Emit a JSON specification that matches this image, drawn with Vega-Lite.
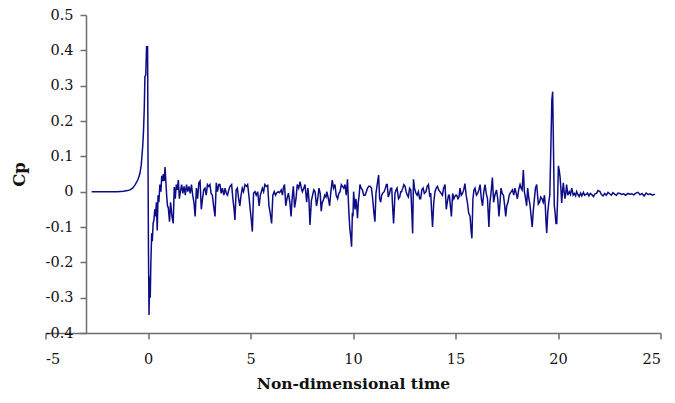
{
  "$schema": "https://vega.github.io/schema/vega-lite/v6.json",
  "autosize": "none",
  "width": 615,
  "height": 318,
  "padding": {"left": 45.5, "top": 15, "right": 14, "bottom": 70},
  "background": "white",
  "config": {
    "view": {"stroke": null},
    "axis": {
      "grid": false,
      "domainColor": "#6e6e6e",
      "domainWidth": 1.5,
      "tickColor": "#6e6e6e",
      "tickWidth": 1.5,
      "tickSize": 6,
      "labelFont": "DejaVu Serif",
      "labelFontSize": 14.5,
      "labelColor": "#111111",
      "titleFont": "DejaVu Serif",
      "titleFontSize": 15.5,
      "titleFontWeight": "bold",
      "titleColor": "#111111"
    }
  },
  "data": {"values": [
    {"t": -2.75, "cp": 0}, {"t": -2.0, "cp": 0}, {"t": -1.5, "cp": 0}, {"t": -1.2, "cp": 0.001}, {"t": -1.0, "cp": 0.003},
    {"t": -0.88, "cp": 0.005}, {"t": -0.75, "cp": 0.01}, {"t": -0.63, "cp": 0.019}, {"t": -0.5, "cp": 0.033}, {"t": -0.4, "cp": 0.05},
    {"t": -0.33, "cp": 0.075}, {"t": -0.26, "cp": 0.127}, {"t": -0.22, "cp": 0.17}, {"t": -0.18, "cp": 0.24}, {"t": -0.15, "cp": 0.326},
    {"t": -0.11, "cp": 0.33}, {"t": -0.07, "cp": 0.41}, {"t": -0.02, "cp": 0.41}, {"t": 0.0, "cp": 0.1}, {"t": 0.02, "cp": -0.15},
    {"t": 0.05, "cp": -0.349}, {"t": 0.08, "cp": -0.24}, {"t": 0.11, "cp": -0.3}, {"t": 0.14, "cp": -0.2}, {"t": 0.18, "cp": -0.118},
    {"t": 0.21, "cp": -0.14}, {"t": 0.25, "cp": -0.09}, {"t": 0.29, "cp": -0.08}, {"t": 0.33, "cp": -0.05}, {"t": 0.37, "cp": -0.07},
    {"t": 0.41, "cp": -0.03}, {"t": 0.45, "cp": -0.11}, {"t": 0.49, "cp": -0.01}, {"t": 0.53, "cp": -0.03}, {"t": 0.58, "cp": 0.02},
    {"t": 0.63, "cp": 0.0}, {"t": 0.67, "cp": 0.045}, {"t": 0.71, "cp": 0.03}, {"t": 0.75, "cp": 0.05}, {"t": 0.79, "cp": 0.03},
    {"t": 0.83, "cp": 0.07}, {"t": 0.87, "cp": 0.03}, {"t": 0.91, "cp": -0.01}, {"t": 0.95, "cp": -0.04}, {"t": 0.99, "cp": -0.045},
    {"t": 1.05, "cp": -0.085}, {"t": 1.1, "cp": -0.03}, {"t": 1.17, "cp": -0.07}, {"t": 1.23, "cp": -0.09}, {"t": 1.28, "cp": 0.013},
    {"t": 1.33, "cp": -0.02}, {"t": 1.38, "cp": 0.02}, {"t": 1.43, "cp": 0.005}, {"t": 1.48, "cp": 0.033}, {"t": 1.53, "cp": -0.02},
    {"t": 1.58, "cp": 0.0}, {"t": 1.64, "cp": 0.02}, {"t": 1.7, "cp": -0.005}, {"t": 1.76, "cp": 0.015}, {"t": 1.82, "cp": -0.01},
    {"t": 1.88, "cp": 0.02}, {"t": 1.94, "cp": 0.0}, {"t": 2.0, "cp": 0.015}, {"t": 2.06, "cp": -0.005}, {"t": 2.12, "cp": 0.02},
    {"t": 2.18, "cp": -0.01}, {"t": 2.24, "cp": -0.03}, {"t": 2.3, "cp": -0.07}, {"t": 2.36, "cp": 0.01}, {"t": 2.42, "cp": -0.02},
    {"t": 2.48, "cp": 0.025}, {"t": 2.54, "cp": 0.03}, {"t": 2.6, "cp": -0.05}, {"t": 2.66, "cp": -0.02}, {"t": 2.72, "cp": 0.005},
    {"t": 2.78, "cp": 0.01}, {"t": 2.84, "cp": -0.01}, {"t": 2.9, "cp": 0.02}, {"t": 2.96, "cp": 0.015}, {"t": 3.02, "cp": 0.02},
    {"t": 3.08, "cp": -0.005}, {"t": 3.14, "cp": -0.01}, {"t": 3.2, "cp": -0.04}, {"t": 3.27, "cp": -0.07}, {"t": 3.33, "cp": 0.025},
    {"t": 3.39, "cp": 0.0}, {"t": 3.45, "cp": 0.02}, {"t": 3.51, "cp": 0.02}, {"t": 3.57, "cp": -0.005}, {"t": 3.63, "cp": 0.01},
    {"t": 3.7, "cp": -0.01}, {"t": 3.76, "cp": 0.01}, {"t": 3.82, "cp": -0.005}, {"t": 3.88, "cp": -0.01}, {"t": 3.94, "cp": 0.005},
    {"t": 4.0, "cp": 0.015}, {"t": 4.08, "cp": 0.02}, {"t": 4.14, "cp": -0.02}, {"t": 4.2, "cp": -0.05}, {"t": 4.24, "cp": -0.08},
    {"t": 4.3, "cp": 0.005}, {"t": 4.36, "cp": 0.01}, {"t": 4.42, "cp": -0.02}, {"t": 4.48, "cp": -0.04}, {"t": 4.54, "cp": -0.01},
    {"t": 4.6, "cp": 0.01}, {"t": 4.66, "cp": 0.0}, {"t": 4.73, "cp": 0.02}, {"t": 4.8, "cp": 0.015}, {"t": 4.86, "cp": 0.02},
    {"t": 4.92, "cp": -0.01}, {"t": 4.98, "cp": -0.047}, {"t": 5.04, "cp": -0.08}, {"t": 5.09, "cp": -0.113}, {"t": 5.15, "cp": -0.004},
    {"t": 5.22, "cp": 0.0}, {"t": 5.28, "cp": -0.01}, {"t": 5.35, "cp": 0.0}, {"t": 5.42, "cp": -0.04}, {"t": 5.48, "cp": -0.01},
    {"t": 5.58, "cp": 0.01}, {"t": 5.64, "cp": 0.0}, {"t": 5.7, "cp": 0.02}, {"t": 5.77, "cp": 0.015}, {"t": 5.84, "cp": 0.018},
    {"t": 5.9, "cp": -0.04}, {"t": 5.96, "cp": -0.06}, {"t": 6.03, "cp": -0.09}, {"t": 6.09, "cp": -0.01}, {"t": 6.16, "cp": 0.0},
    {"t": 6.22, "cp": -0.01}, {"t": 6.28, "cp": -0.004}, {"t": 6.35, "cp": 0.0}, {"t": 6.42, "cp": -0.003}, {"t": 6.5, "cp": 0.005},
    {"t": 6.56, "cp": -0.01}, {"t": 6.6, "cp": 0.01}, {"t": 6.66, "cp": 0.02}, {"t": 6.72, "cp": -0.04}, {"t": 6.78, "cp": -0.02},
    {"t": 6.85, "cp": -0.004}, {"t": 6.92, "cp": -0.03}, {"t": 6.98, "cp": -0.07}, {"t": 7.03, "cp": -0.02}, {"t": 7.09, "cp": 0.015},
    {"t": 7.15, "cp": -0.045}, {"t": 7.22, "cp": -0.02}, {"t": 7.28, "cp": 0.02}, {"t": 7.35, "cp": 0.01}, {"t": 7.42, "cp": 0.028},
    {"t": 7.48, "cp": 0.01}, {"t": 7.53, "cp": 0.0}, {"t": 7.6, "cp": 0.01}, {"t": 7.66, "cp": 0.02}, {"t": 7.74, "cp": -0.03},
    {"t": 7.8, "cp": 0.01}, {"t": 7.85, "cp": -0.02}, {"t": 7.9, "cp": -0.094}, {"t": 7.97, "cp": -0.025}, {"t": 8.03, "cp": -0.01},
    {"t": 8.09, "cp": 0.005}, {"t": 8.15, "cp": 0.0}, {"t": 8.22, "cp": -0.04}, {"t": 8.28, "cp": -0.02}, {"t": 8.34, "cp": 0.01},
    {"t": 8.4, "cp": -0.005}, {"t": 8.45, "cp": -0.055}, {"t": 8.5, "cp": -0.03}, {"t": 8.55, "cp": -0.025}, {"t": 8.62, "cp": -0.01},
    {"t": 8.68, "cp": -0.015}, {"t": 8.72, "cp": 0.0}, {"t": 8.8, "cp": -0.02}, {"t": 8.86, "cp": -0.04}, {"t": 8.92, "cp": 0.0},
    {"t": 8.99, "cp": 0.033}, {"t": 9.05, "cp": 0.01}, {"t": 9.12, "cp": 0.02}, {"t": 9.18, "cp": -0.01}, {"t": 9.25, "cp": -0.02},
    {"t": 9.31, "cp": -0.005}, {"t": 9.37, "cp": 0.0}, {"t": 9.43, "cp": 0.02}, {"t": 9.49, "cp": 0.015}, {"t": 9.55, "cp": 0.01},
    {"t": 9.61, "cp": 0.02}, {"t": 9.67, "cp": -0.01}, {"t": 9.73, "cp": 0.035}, {"t": 9.8, "cp": -0.06}, {"t": 9.85, "cp": -0.108},
    {"t": 9.89, "cp": -0.127}, {"t": 9.93, "cp": -0.156}, {"t": 9.97, "cp": -0.06}, {"t": 10.0, "cp": -0.07}, {"t": 10.03, "cp": 0.0},
    {"t": 10.07, "cp": -0.03}, {"t": 10.1, "cp": -0.05}, {"t": 10.14, "cp": -0.02}, {"t": 10.18, "cp": -0.04}, {"t": 10.22, "cp": -0.075},
    {"t": 10.26, "cp": -0.03}, {"t": 10.3, "cp": -0.01}, {"t": 10.34, "cp": 0.02}, {"t": 10.4, "cp": 0.01}, {"t": 10.46, "cp": 0.005},
    {"t": 10.52, "cp": -0.01}, {"t": 10.59, "cp": -0.01}, {"t": 10.65, "cp": 0.0}, {"t": 10.71, "cp": 0.01}, {"t": 10.77, "cp": 0.015},
    {"t": 10.83, "cp": 0.015}, {"t": 10.9, "cp": 0.01}, {"t": 10.96, "cp": -0.02}, {"t": 11.02, "cp": -0.06}, {"t": 11.07, "cp": -0.085},
    {"t": 11.12, "cp": -0.005}, {"t": 11.18, "cp": 0.02}, {"t": 11.25, "cp": 0.047}, {"t": 11.3, "cp": -0.02}, {"t": 11.35, "cp": -0.03},
    {"t": 11.4, "cp": -0.01}, {"t": 11.45, "cp": -0.004}, {"t": 11.52, "cp": 0.0}, {"t": 11.58, "cp": 0.01}, {"t": 11.63, "cp": 0.02},
    {"t": 11.67, "cp": 0.02}, {"t": 11.72, "cp": -0.015}, {"t": 11.78, "cp": -0.005}, {"t": 11.84, "cp": 0.01}, {"t": 11.89, "cp": 0.01},
    {"t": 11.93, "cp": -0.04}, {"t": 11.98, "cp": -0.09}, {"t": 12.05, "cp": -0.004}, {"t": 12.1, "cp": 0.005}, {"t": 12.15, "cp": 0.01},
    {"t": 12.22, "cp": -0.02}, {"t": 12.28, "cp": -0.015}, {"t": 12.33, "cp": 0.0}, {"t": 12.37, "cp": 0.0}, {"t": 12.43, "cp": 0.01},
    {"t": 12.48, "cp": 0.02}, {"t": 12.54, "cp": 0.015}, {"t": 12.59, "cp": 0.0}, {"t": 12.65, "cp": -0.01}, {"t": 12.7, "cp": -0.015},
    {"t": 12.76, "cp": 0.01}, {"t": 12.82, "cp": 0.005}, {"t": 12.87, "cp": -0.06}, {"t": 12.91, "cp": -0.118}, {"t": 12.95, "cp": 0.035},
    {"t": 13.0, "cp": 0.01}, {"t": 13.07, "cp": -0.004}, {"t": 13.13, "cp": -0.01}, {"t": 13.19, "cp": 0.0}, {"t": 13.25, "cp": -0.02},
    {"t": 13.3, "cp": -0.02}, {"t": 13.36, "cp": 0.005}, {"t": 13.42, "cp": 0.01}, {"t": 13.48, "cp": -0.005}, {"t": 13.56, "cp": 0.0},
    {"t": 13.62, "cp": 0.015}, {"t": 13.68, "cp": 0.02}, {"t": 13.74, "cp": -0.01}, {"t": 13.79, "cp": -0.004}, {"t": 13.84, "cp": -0.06},
    {"t": 13.88, "cp": -0.1}, {"t": 13.94, "cp": -0.03}, {"t": 14.0, "cp": 0.0}, {"t": 14.06, "cp": 0.01}, {"t": 14.12, "cp": 0.015},
    {"t": 14.18, "cp": 0.005}, {"t": 14.24, "cp": 0.0}, {"t": 14.3, "cp": -0.005}, {"t": 14.36, "cp": -0.01}, {"t": 14.42, "cp": 0.01},
    {"t": 14.49, "cp": 0.02}, {"t": 14.55, "cp": -0.05}, {"t": 14.6, "cp": -0.03}, {"t": 14.66, "cp": -0.01}, {"t": 14.7, "cp": -0.01},
    {"t": 14.75, "cp": -0.04}, {"t": 14.8, "cp": -0.07}, {"t": 14.86, "cp": -0.005}, {"t": 14.92, "cp": -0.02}, {"t": 15.0, "cp": -0.01},
    {"t": 15.06, "cp": -0.01}, {"t": 15.12, "cp": -0.02}, {"t": 15.17, "cp": -0.015}, {"t": 15.22, "cp": 0.01}, {"t": 15.28, "cp": -0.01},
    {"t": 15.34, "cp": -0.005}, {"t": 15.4, "cp": 0.005}, {"t": 15.46, "cp": 0.023}, {"t": 15.52, "cp": -0.01}, {"t": 15.58, "cp": -0.03},
    {"t": 15.64, "cp": -0.06}, {"t": 15.71, "cp": -0.07}, {"t": 15.76, "cp": -0.11}, {"t": 15.8, "cp": -0.132}, {"t": 15.85, "cp": -0.02},
    {"t": 15.9, "cp": 0.005}, {"t": 15.95, "cp": 0.01}, {"t": 16.02, "cp": -0.01}, {"t": 16.08, "cp": -0.005}, {"t": 16.14, "cp": 0.005},
    {"t": 16.2, "cp": 0.02}, {"t": 16.26, "cp": -0.02}, {"t": 16.32, "cp": -0.04}, {"t": 16.38, "cp": 0.0}, {"t": 16.44, "cp": 0.02},
    {"t": 16.5, "cp": -0.005}, {"t": 16.56, "cp": -0.02}, {"t": 16.63, "cp": -0.1}, {"t": 16.68, "cp": -0.03}, {"t": 16.74, "cp": 0.0},
    {"t": 16.8, "cp": 0.04}, {"t": 16.86, "cp": -0.03}, {"t": 16.92, "cp": -0.01}, {"t": 17.0, "cp": 0.005}, {"t": 17.06, "cp": -0.02},
    {"t": 17.12, "cp": -0.07}, {"t": 17.16, "cp": -0.04}, {"t": 17.22, "cp": 0.01}, {"t": 17.28, "cp": -0.005}, {"t": 17.34, "cp": -0.01},
    {"t": 17.4, "cp": -0.04}, {"t": 17.45, "cp": -0.07}, {"t": 17.5, "cp": -0.04}, {"t": 17.56, "cp": -0.03}, {"t": 17.62, "cp": -0.01},
    {"t": 17.66, "cp": -0.005}, {"t": 17.72, "cp": 0.0}, {"t": 17.78, "cp": 0.005}, {"t": 17.84, "cp": -0.01}, {"t": 17.9, "cp": 0.01},
    {"t": 17.96, "cp": -0.005}, {"t": 18.02, "cp": -0.02}, {"t": 18.08, "cp": 0.005}, {"t": 18.15, "cp": 0.02}, {"t": 18.2, "cp": 0.01},
    {"t": 18.25, "cp": 0.005}, {"t": 18.31, "cp": 0.061}, {"t": 18.36, "cp": 0.0}, {"t": 18.42, "cp": -0.02}, {"t": 18.47, "cp": -0.04},
    {"t": 18.52, "cp": 0.01}, {"t": 18.58, "cp": -0.02}, {"t": 18.63, "cp": -0.035}, {"t": 18.69, "cp": -0.07}, {"t": 18.74, "cp": -0.1},
    {"t": 18.8, "cp": -0.05}, {"t": 18.85, "cp": -0.02}, {"t": 18.9, "cp": 0.01}, {"t": 18.96, "cp": 0.02}, {"t": 19.04, "cp": -0.035},
    {"t": 19.1, "cp": -0.03}, {"t": 19.16, "cp": -0.015}, {"t": 19.22, "cp": -0.02}, {"t": 19.28, "cp": -0.03}, {"t": 19.34, "cp": -0.01},
    {"t": 19.38, "cp": -0.04}, {"t": 19.42, "cp": -0.09}, {"t": 19.45, "cp": -0.117}, {"t": 19.5, "cp": -0.06}, {"t": 19.55, "cp": -0.03},
    {"t": 19.6, "cp": -0.01}, {"t": 19.65, "cp": 0.12}, {"t": 19.7, "cp": 0.26}, {"t": 19.74, "cp": 0.283}, {"t": 19.78, "cp": 0.12},
    {"t": 19.82, "cp": -0.04}, {"t": 19.86, "cp": -0.06}, {"t": 19.9, "cp": -0.09}, {"t": 19.94, "cp": -0.09}, {"t": 19.98, "cp": -0.02},
    {"t": 20.02, "cp": 0.073}, {"t": 20.06, "cp": 0.06}, {"t": 20.1, "cp": 0.042}, {"t": 20.14, "cp": 0.01}, {"t": 20.18, "cp": -0.032},
    {"t": 20.22, "cp": 0.0}, {"t": 20.26, "cp": 0.025}, {"t": 20.3, "cp": 0.0}, {"t": 20.34, "cp": -0.02}, {"t": 20.38, "cp": -0.005},
    {"t": 20.42, "cp": 0.02}, {"t": 20.48, "cp": -0.01}, {"t": 20.55, "cp": 0.0}, {"t": 20.61, "cp": -0.008}, {"t": 20.67, "cp": 0.01},
    {"t": 20.74, "cp": -0.01}, {"t": 20.8, "cp": -0.005}, {"t": 20.86, "cp": -0.012}, {"t": 20.91, "cp": 0.0}, {"t": 20.97, "cp": -0.008},
    {"t": 21.03, "cp": -0.014}, {"t": 21.1, "cp": -0.004}, {"t": 21.16, "cp": -0.012}, {"t": 21.24, "cp": -0.002}, {"t": 21.3, "cp": -0.01},
    {"t": 21.37, "cp": -0.008}, {"t": 21.44, "cp": -0.004}, {"t": 21.51, "cp": -0.012}, {"t": 21.58, "cp": -0.005}, {"t": 21.66, "cp": -0.009},
    {"t": 21.73, "cp": -0.014}, {"t": 21.8, "cp": -0.006}, {"t": 21.88, "cp": -0.005}, {"t": 21.95, "cp": 0.003}, {"t": 22.05, "cp": 0.0},
    {"t": 22.12, "cp": -0.008}, {"t": 22.2, "cp": -0.012}, {"t": 22.28, "cp": -0.005}, {"t": 22.36, "cp": -0.01}, {"t": 22.44, "cp": -0.002},
    {"t": 22.52, "cp": -0.006}, {"t": 22.6, "cp": -0.01}, {"t": 22.68, "cp": -0.003}, {"t": 22.76, "cp": -0.007}, {"t": 22.85, "cp": -0.01},
    {"t": 22.93, "cp": -0.004}, {"t": 23.02, "cp": -0.005}, {"t": 23.1, "cp": -0.008}, {"t": 23.2, "cp": -0.006}, {"t": 23.3, "cp": -0.01},
    {"t": 23.4, "cp": -0.005}, {"t": 23.5, "cp": -0.007}, {"t": 23.6, "cp": -0.006}, {"t": 23.7, "cp": -0.009}, {"t": 23.8, "cp": -0.004},
    {"t": 23.9, "cp": -0.002}, {"t": 24.0, "cp": -0.009}, {"t": 24.1, "cp": -0.005}, {"t": 24.2, "cp": -0.012}, {"t": 24.3, "cp": -0.004},
    {"t": 24.4, "cp": -0.008}, {"t": 24.5, "cp": -0.006}, {"t": 24.6, "cp": -0.01}, {"t": 24.73, "cp": -0.007}
  ]},
  "mark": {"type": "line", "color": "#0c0c87", "strokeWidth": 1.5, "strokeJoin": "miter"},
  "encoding": {
    "x": {
      "field": "t", "type": "quantitative",
      "scale": {"domain": [-5, 25], "nice": false, "zero": false},
      "axis": {"values": [-5, 0, 5, 10, 15, 20, 25], "title": "Non-dimensional time", "labelPadding": 13, "titlePadding": 11,
        "labelExpr": "replace(format(datum.value, 'd'), '\u2212', '-')"}
    },
    "y": {
      "field": "cp", "type": "quantitative",
      "scale": {"domain": [-0.4, 0.5], "nice": false, "zero": false},
      "axis": {"values": [-0.4, -0.3, -0.2, -0.1, 0, 0.1, 0.2, 0.3, 0.4, 0.5], "title": "Cp", "offset": -40.5, "labelPadding": 7, "titlePadding": 18, "titleFontSize": 16.5,
        "labelExpr": "datum.value == 0 ? '0' : replace(format(datum.value, '.1f'), '\u2212', '-')"}
    }
  }
}
